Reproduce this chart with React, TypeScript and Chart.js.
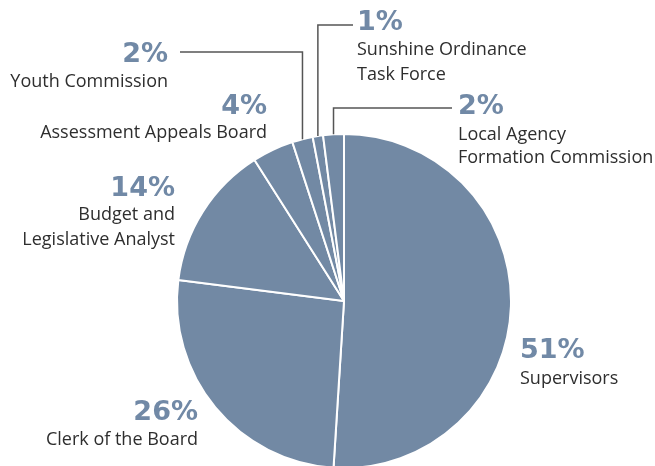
import React, { useEffect, useRef } from "react";
import { Chart, registerables } from "chart.js";

Chart.register(...registerables);

const categories = [
  "Supervisors",
  "Clerk of the Board",
  "Budget and Legislative Analyst",
  "Assessment Appeals Board",
  "Youth Commission",
  "Sunshine Ordinance Task Force",
  "Local Agency Formation Commission",
];
const shares = [51, 26, 14, 4, 2, 1, 2];
const labelLines = [
  ["Supervisors"],
  ["Clerk of the Board"],
  ["Budget and", "Legislative Analyst"],
  ["Assessment Appeals Board"],
  ["Youth Commission"],
  ["Sunshine Ordinance", "Task Force"],
  ["Local Agency", "Formation Commission"],
];

const SLICE = "#7289a4";
const PCT = "#7189a6";
const TEXT = "#2e2e2e";

type Spec = { align: "left" | "right"; x: number; pctY: number; ys: number[]; elbowY?: number; endX?: number };
const layoutSpecs: Spec[] = [
  { align: "left", x: 520, pctY: 351, ys: [379] },
  { align: "right", x: 198, pctY: 413, ys: [440] },
  { align: "right", x: 175, pctY: 189, ys: [215, 240] },
  { align: "right", x: 267, pctY: 107, ys: [133] },
  { align: "right", x: 168, pctY: 55, ys: [82], elbowY: 52, endX: 180 },
  { align: "left", x: 357, pctY: 23, ys: [50, 75], elbowY: 25, endX: 353 },
  { align: "left", x: 458, pctY: 107, ys: [135, 158], elbowY: 108, endX: 452 },
];

const labelPlugin = {
  id: "pieLabels",
  afterDraw(chart: any) {
    const ctx = chart.ctx;
    const meta = chart.getDatasetMeta(0);
    const vals = chart.data.datasets[0].data as number[];
    ctx.save();
    meta.data.forEach((arc: any, i: number) => {
      const s = layoutSpecs[i];
      if (!s) return;
      if (s.elbowY !== undefined && s.endX !== undefined) {
        const p = arc.getProps(["x", "y", "startAngle", "endAngle", "outerRadius"], true);
        const mid = (p.startAngle + p.endAngle) / 2;
        const ax = p.x + Math.cos(mid) * p.outerRadius;
        const ay = p.y + Math.sin(mid) * p.outerRadius;
        ctx.beginPath();
        ctx.strokeStyle = "#555";
        ctx.lineWidth = 1.5;
        ctx.moveTo(ax, ay);
        ctx.lineTo(ax, s.elbowY);
        ctx.lineTo(s.endX, s.elbowY);
        ctx.stroke();
      }
      ctx.textAlign = s.align;
      ctx.textBaseline = "middle";
      ctx.fillStyle = PCT;
      ctx.font = "bold 27px 'DejaVu Sans', sans-serif";
      ctx.fillText(`${vals[i]}%`, s.x, s.pctY);
      ctx.fillStyle = TEXT;
      ctx.font = "18px 'Open Sans', sans-serif";
      labelLines[i].forEach((t, j) => ctx.fillText(t, s.x, s.ys[j]));
    });
    ctx.restore();
  },
};

export default function App() {
  const ref = useRef<HTMLCanvasElement | null>(null);
  useEffect(() => {
    document.body.style.margin = "0";
    const chart = new Chart(ref.current as HTMLCanvasElement, {
      type: "pie",
      data: {
        labels: categories,
        datasets: [
          {
            data: shares,
            backgroundColor: SLICE,
            borderColor: "#ffffff",
            borderWidth: 2,
          },
        ],
      },
      options: {
        responsive: false,
        animation: false,
        layout: { padding: { left: 176, right: 143, top: 133, bottom: 11 } },
        plugins: { legend: { display: false }, tooltip: { enabled: false } },
      },
      plugins: [labelPlugin],
    });
    return () => chart.destroy();
  }, []);
  return (
    <div style={{ position: "fixed", left: 0, top: 0, width: 655, height: 466, overflow: "hidden", background: "#fff" }}>
      <canvas ref={ref} width={655} height={480} style={{ display: "block" }} />
    </div>
  );
}
